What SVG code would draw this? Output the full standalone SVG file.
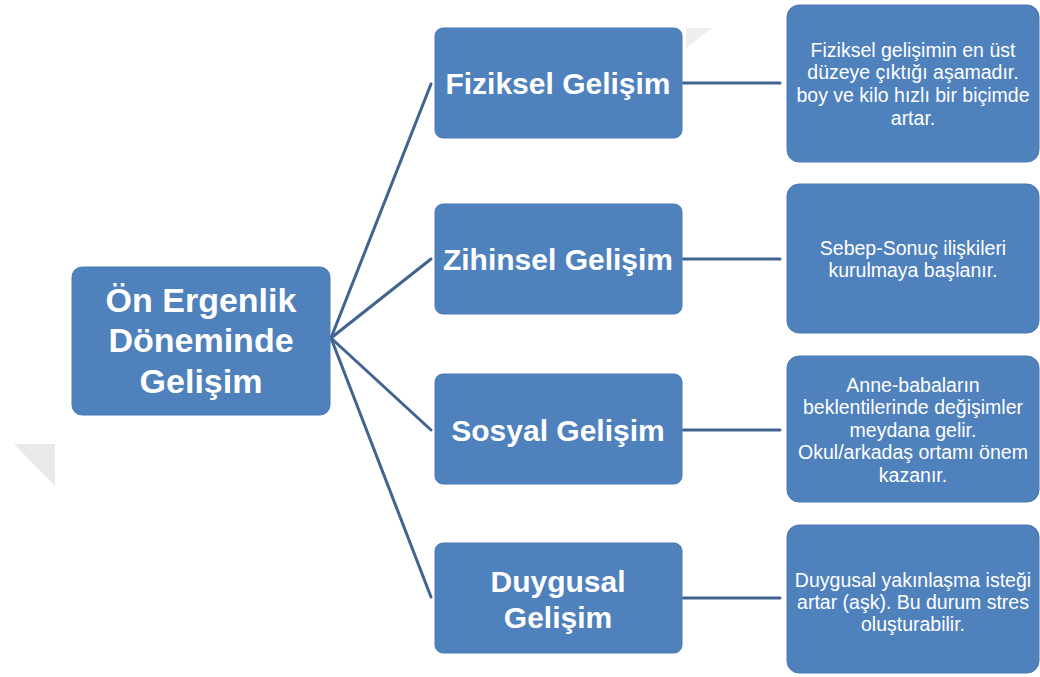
<svg xmlns="http://www.w3.org/2000/svg" width="1040" height="677" viewBox="0 0 1040 677">
<style>
.box{fill:#4F81BD;stroke:#4A7AB3;stroke-width:1}
.t{fill:#ffffff;font-family:"Liberation Sans",Arial,sans-serif;text-anchor:middle}
.big{font-size:34px;font-weight:bold}
.mid{font-size:30px;font-weight:bold}
.sm{font-size:19.5px}
.con{stroke:#40648F;stroke-width:3;fill:none;stroke-linecap:round}
</style>
<rect width="1040" height="677" fill="#ffffff"/>
<polygon points="14,444 55,444 55,486" fill="#E9E9E9"/>
<polygon points="686,28 712,28 686,48" fill="#EEEEEE"/>
<g id="connectors">
<path class="con" d="M331,338 L431,84"/>
<path class="con" d="M331,338 L431,259"/>
<path class="con" d="M331,338 L431,430"/>
<path class="con" d="M331,338 L431,597"/>
<path class="con" d="M683,83 L780,83"/>
<path class="con" d="M683,259 L780,259"/>
<path class="con" d="M683,430 L780,430"/>
<path class="con" d="M683,598 L780,598"/>
</g>
<g id="root">
<rect class="box" x="72" y="267" width="258" height="148" rx="10"/>
<text class="t big" x="201" y="312">Ön Ergenlik</text>
<text class="t big" x="201" y="352">Döneminde</text>
<text class="t big" x="201" y="393">Gelişim</text>
</g>
<g id="fiziksel">
<rect class="box" x="435" y="28" width="247" height="110" rx="8"/>
<text class="t mid" x="558" y="94">Fiziksel Gelişim</text>
</g>
<g id="zihinsel">
<rect class="box" x="435" y="204" width="247" height="110" rx="8"/>
<text class="t mid" x="558" y="270">Zihinsel Gelişim</text>
</g>
<g id="sosyal">
<rect class="box" x="435" y="374" width="247" height="110" rx="8"/>
<text class="t mid" x="558" y="441">Sosyal Gelişim</text>
</g>
<g id="duygusal">
<rect class="box" x="435" y="543" width="247" height="110" rx="8"/>
<text class="t mid" x="558" y="592">Duygusal</text>
<text class="t mid" x="558" y="628">Gelişim</text>
</g>
<g id="d1">
<rect class="box" x="787" y="5" width="252" height="157" rx="12"/>
<text class="t sm" x="913" y="57">Fiziksel gelişimin en üst</text>
<text class="t sm" x="913" y="79">düzeye çıktığı aşamadır.</text>
<text class="t sm" x="913" y="102">boy ve kilo hızlı bir biçimde</text>
<text class="t sm" x="913" y="125">artar.</text>
</g>
<g id="d2">
<rect class="box" x="787" y="184" width="252" height="149" rx="12"/>
<text class="t sm" x="913" y="255">Sebep-Sonuç ilişkileri</text>
<text class="t sm" x="913" y="277">kurulmaya başlanır.</text>
</g>
<g id="d3">
<rect class="box" x="787" y="356" width="252" height="146" rx="12"/>
<text class="t sm" x="913" y="392">Anne-babaların</text>
<text class="t sm" x="913" y="414">beklentilerinde değişimler</text>
<text class="t sm" x="913" y="437">meydana gelir.</text>
<text class="t sm" x="913" y="459">Okul/arkadaş ortamı önem</text>
<text class="t sm" x="913" y="482">kazanır.</text>
</g>
<g id="d4">
<rect class="box" x="787" y="525" width="252" height="148" rx="12"/>
<text class="t sm" x="913" y="587">Duygusal yakınlaşma isteği</text>
<text class="t sm" x="913" y="609">artar (aşk). Bu durum stres</text>
<text class="t sm" x="913" y="631">oluşturabilir.</text>
</g>
</svg>
